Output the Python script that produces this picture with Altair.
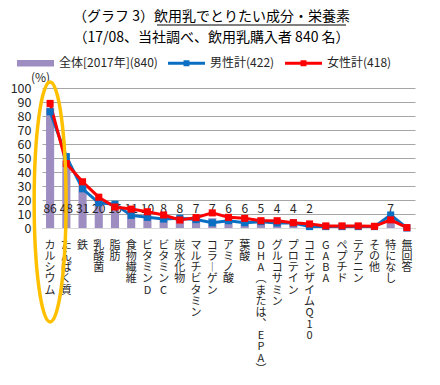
import altair as alt
import pandas as pd

FONT = "Noto Sans CJK JP"

categories = ["カルシウム", "たんぱく質", "鉄", "乳酸菌", "脂肪", "食物繊維", "ビタミンD",
              "ビタミンC", "炭水化物", "マルチビタミン", "コラーゲン", "アミノ酸", "葉酸",
              "DHA（または、EPA）", "グルコサミン", "プロテイン", "コエンザイムQ10",
              "GABA", "ペプチド", "テアニン", "その他", "特になし", "無回答"]
total = [86, 48, 31, 20, 16, 11, 10, 8, 8, 7, 7, 6, 6, 5, 4, 4, 2, 1, 1, 1, 1, 7, 0]
total_labels = ["86", "48", "31", "20", "16", "11", "10", "8", "8", "7", "7", "6", "6",
                "5", "4", "4", "2", "", "", "", "", "7", ""]
male = [83, 51, 28, 18, 17, 9, 7.6, 6.4, 7, 6, 3.7, 5.2, 3.8, 4.5, 3.6, 3.6, 1, 1, 1, 1, 1, 9.3, 0]
female = [89, 46, 33, 22, 15, 13.5, 11.6, 9.3, 5.7, 7.4, 10.8, 7.6, 6.9, 5.2, 5.2, 3.8, 2.9,
          1.5, 1.5, 1.5, 1.2, 5.8, 0.3]
series_names = ["全体[2017年](840)", "男性計(422)", "女性計(418)"]
series_colors = ["#9d8dc1", "#0a6fc2", "#ff0000"]
title_lines = ["（グラフ 3）飲用乳でとりたい成分・栄養素", "（17/08、当社調べ、飲用乳購入者 840 名）"]
highlight = ["カルシウム"]
y_ticks = [0, 10, 20, 30, 40, 50, 60, 70, 80, 90, 100]

bars_df = pd.DataFrame({"cat": categories, "value": total, "label": total_labels})
lines_df = pd.concat([
    pd.DataFrame({"cat": categories, "value": male, "series": series_names[1]}),
    pd.DataFrame({"cat": categories, "value": female, "series": series_names[2]}),
])
legend_df = pd.DataFrame({"series": series_names})
hl_df = pd.DataFrame({"cat": highlight, "value": [18.6]})

xaxis = alt.Axis(labelAngle=0, labelAlign="center", labelBaseline="top",
                 labelExpr="split(replace(replace(replace(replace(datum.label,'ー','︱'),'（','︵'),'）','︶'),'、','︑'),'')",
                 labelLineHeight=11.3, labelFontSize=11, labelFont=FONT,
                 labelColor="#262626", labelPadding=11, ticks=False,
                 domainColor="#d9d9d9", domainWidth=1, labelOverlap=False)
xscale = alt.Scale(paddingInner=0.5, paddingOuter=0.25)
xenc = alt.X("cat:N", sort=categories, title=None, scale=xscale, axis=xaxis)
yscale = alt.Scale(domain=[0, 100], nice=False)
yaxis = alt.Axis(values=y_ticks, tickCount=11, ticks=False, domain=False,
                 gridColor="#a6a6a6", gridWidth=1, labelFont=FONT, labelFontSize=12.5,
                 labelColor="#262626", labelPadding=11, labelOverlap=False,
                 title="(%)", titleAngle=0, titleX=-2, titleY=-11, titleAlign="center",
                 titleBaseline="middle", titleFont=FONT, titleFontSize=12,
                 titleFontWeight="normal", titleColor="#262626")
yenc = alt.Y("value:Q", scale=yscale, axis=yaxis, title="(%)")

bars = alt.Chart(bars_df).mark_bar(color=series_colors[0]).encode(x=xenc, y=yenc)

labels = alt.Chart(bars_df).mark_text(font=FONT, fontSize=12, color="#262626",
                                      baseline="middle", dy=-19).encode(
    x=xenc, y=alt.YDatum(0, scale=yscale, axis=yaxis, title="(%)"), text="label:N")

line_layers = []
for name, col in zip(series_names[1:], series_colors[1:]):
    d = lines_df[lines_df.series == name]
    line_layers.append(alt.Chart(d).mark_line(color=col, strokeWidth=3).encode(
        x=xenc, y=yenc))
for name, col in zip(series_names[1:], series_colors[1:]):
    d = lines_df[lines_df.series == name]
    line_layers.append(alt.Chart(d).mark_square(color=col, size=50, opacity=1).encode(
        x=xenc, y=yenc))

bar_sym = "M-1,-0.17H1V0.17H-1Z"
line_sym = "M-1,-0.08H1V0.08H-1Z M-0.16,-0.16H0.16V0.16H-0.16Z"
legend_layer = alt.Chart(legend_df).mark_point(filled=True, opacity=1, size=1369,
                                               clip=True).encode(
    y=alt.YDatum(300, scale=yscale, axis=yaxis, title="(%)"),
    color=alt.Color("series:N", scale=alt.Scale(domain=series_names, range=series_colors),
                    legend=alt.Legend(orient="none", legendX=-25, legendY=-43.5,
                                      direction="horizontal", title=None,
                                      labelFont=FONT, labelFontSize=12, labelColor="#262626",
                                      labelOffset=5, columnPadding=10, symbolSize=1369,
                                      symbolOpacity=1, symbolStrokeWidth=0, labelLimit=300)),
    shape=alt.Shape("series:N", scale=alt.Scale(domain=series_names,
                                                range=[bar_sym, line_sym, line_sym]))
)

ellipse_path = "M0,-1A0.133,1,0,1,1,0,1A0.133,1,0,1,1,0,-1Z"
ellipse = alt.Chart(hl_df).mark_point(shape=ellipse_path, size=57600, filled=False,
                                      color="#ffc000", strokeWidth=3.5, opacity=1,
                                      clip=False).encode(x=xenc, y=yenc)

underline = alt.Chart(hl_df).mark_rule(color="#000000", strokeWidth=1, clip=False).encode(
    x=alt.value(115), x2=alt.value(304), y=alt.value(-63))

chart = alt.layer(bars, labels, *line_layers, legend_layer, ellipse, underline).properties(
    width=373, height=140,
    padding={"left": 34, "top": 80, "right": 10, "bottom": 147},
    autosize=alt.AutoSizeParams(type="none"),
    title=alt.TitleParams(text=title_lines, font=FONT, fontSize=14, lineHeight=21,
                          fontWeight="normal", color="#000000", anchor="middle",
                          frame="group", dx=-17, offset=-20),
).configure_view(stroke=None)

chart.save("out.html", embed_options={"renderer": "svg", "actions": False})
